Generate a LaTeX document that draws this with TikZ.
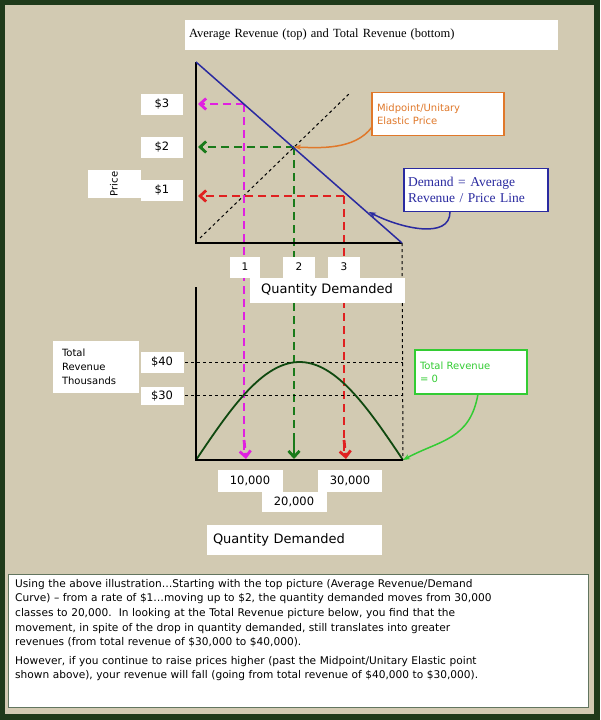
\documentclass[tikz,border=0pt]{standalone}
\usepackage{fontspec}
\setmainfont{Liberation Serif}
\newfontfamily\vsans{DejaVu Sans}
\usetikzlibrary{arrows.meta}
\definecolor{bg}{HTML}{D2CAB2}
\definecolor{frame}{HTML}{1F3A1A}
\definecolor{mag}{HTML}{E020E0}
\definecolor{dgreen}{HTML}{1A7A1A}
\definecolor{dred}{HTML}{E02020}
\definecolor{orng}{HTML}{E0782A}
\definecolor{navy}{HTML}{2A2AA0}
\definecolor{lgreen}{HTML}{33CC33}
\begin{document}
\begin{tikzpicture}[x=1pt,y=-1pt,
  lbl/.style={fill=white,inner sep=0pt,font=\vsans\fontsize{11.5}{13}\selectfont},
  dsh/.style={line width=2.8pt,dash pattern=on 8pt off 5pt},
  dot/.style={line width=1pt,dash pattern=on 3pt off 3pt},
  ax/.style={line width=1.8pt},
  tip/.style={-{Straight Barb[length=6pt,width=11pt]}}]
\useasboundingbox (0,0) rectangle (600,720);
\fill[frame] (0,0) rectangle (600,720);
\fill[bg] (5,5) rectangle (594,714);
% title
\node[fill=white,minimum width=373pt,minimum height=30pt,inner sep=0pt,text width=365pt,font=\fontsize{12.5}{14}\selectfont] (title) at (371.5,35) {Average Revenue (top) and Total Revenue (bottom)};
% top axes
\coordinate (O1) at (196,243); \coordinate (Y1) at (196,62); \coordinate (X1) at (402,243);
\coordinate (M) at (294,147);
\draw[dot] (200,238) -- (350,93);
% dashed guides
\draw[dsh,mag] (244,104) -- (244,455);
\draw[dsh,mag] (196,104) -- (196,243);
\draw[dsh,dgreen] (294,147) -- (294,455);
\draw[dsh,dred] (344,196) -- (344,455);
\draw[dsh,dred] (196,196) -- (196,243) -- (344,243);
\draw[dsh,mag,tip] (244,104) -- (198,104);
\draw[dsh,dgreen,tip] (294,147) -- (198,147);
\draw[dsh,dred,tip] (344,196) -- (198,196);
\draw[ax] (Y1) -- (O1) -- (X1);
\draw[navy,line width=1.5pt] (Y1) -- (X1);
\draw[dot] (X1) -- (403,460);
% price labels
\node[lbl,minimum width=42pt,minimum height=21pt] (p3) at (162,104) {\$3};
\node[lbl,minimum width=42pt,minimum height=21pt] (p2) at (162,147) {\$2};
\node[lbl,minimum width=42pt,minimum height=21pt] (p1) at (162,190) {\$1};
\node[lbl,minimum width=28pt,minimum height=53pt,rotate=90,font=\vsans\fontsize{10}{12}\selectfont] (price) at (114,184) {Price};
\node[lbl,minimum width=30pt,minimum height=21pt,font=\vsans\fontsize{10.5}{12}\selectfont] (q1) at (245,267) {1};
\node[lbl,minimum width=32pt,minimum height=21pt,font=\vsans\fontsize{10.5}{12}\selectfont] (q2) at (299,267) {2};
\node[lbl,minimum width=32pt,minimum height=21pt,font=\vsans\fontsize{10.5}{12}\selectfont] (q3) at (344,267) {3};
\node[lbl,minimum width=155pt,minimum height=25pt,font=\vsans\fontsize{13}{15}\selectfont] (qd1) at (327,290) {Quantity Demanded};
% callouts
\node[fill=white,draw=orng,line width=1.5pt,text=orng,minimum width=132pt,minimum height=43pt,inner sep=3pt,text width=122pt,align=left,font=\vsans\fontsize{10}{13}\selectfont] (mid) at (438,114) {Midpoint/Unitary\\Elastic Price};
\draw[orng,line width=1.5pt,-{Stealth[length=7pt]}] (372,127) .. controls (355,150) and (320,148) .. (M);
\node[fill=white,draw=navy,line width=1.5pt,text=navy,minimum width=144pt,minimum height=43pt,inner sep=3pt,text width=136pt,align=left,font=\fontsize{13.5}{15.5}\selectfont] (dem) at (476,190) {Demand = Average\\Revenue / Price Line};
\draw[navy,line width=1.5pt,-{Stealth[length=7pt]}] (450,212) .. controls (450,240) and (400,228) .. (369,212);
% bottom axes
\coordinate (O2) at (196,460); \coordinate (Y2) at (196,287); \coordinate (X2) at (403,460);
\draw[dot] (185,362) -- (403,362);
\draw[dot] (185,395) -- (403,395);
\draw[dgreen!60!black,line width=1.8pt] plot[domain=0:180,samples=60] ({196+1.15*\x},{460-98*sin(\x)});
\draw[dsh,mag,tip] (244,440) -- (246,459);
\draw[dsh,dgreen,tip] (294,440) -- (294,459);
\draw[dsh,dred,tip] (344,440) -- (346,459);
\draw[ax] (Y2) -- (O2) -- (X2);
\node[lbl,minimum width=86pt,minimum height=52pt,text width=68pt,align=left,font=\vsans\fontsize{10}{14}\selectfont] (trt) at (96,367) {Total\\Revenue\\Thousands};
\node[lbl,minimum width=43pt,minimum height=21pt] (t40) at (162,362) {\$40};
\node[lbl,minimum width=43pt,minimum height=18pt] (t30) at (162,396) {\$30};
\node[fill=white,draw=lgreen,line width=1.5pt,text=lgreen,minimum width=112pt,minimum height=44pt,inner sep=3pt,text width=102pt,align=left,font=\vsans\fontsize{10}{13}\selectfont] (tr0) at (471,372) {Total Revenue\\= 0};
\draw[lgreen,line width=1.5pt,-{Stealth[length=7pt]}] (478,394) .. controls (470,440) and (440,440) .. (X2);
\node[lbl,minimum width=65pt,minimum height=22pt] (n10) at (250,481) {10,000};
\node[lbl,minimum width=64pt,minimum height=22pt] (n30) at (350,481) {30,000};
\node[lbl,minimum width=65pt,minimum height=20pt] (n20) at (294,502) {20,000};
\node[lbl,minimum width=175pt,minimum height=30pt,text width=162pt,align=left,font=\vsans\fontsize{13}{15}\selectfont] (qd2) at (294,540) {Quantity Demanded};
% bottom text
\fill[white,draw=frame!70,line width=0.8pt] (8,574) rectangle (588,707);
\node[inner sep=0pt,anchor=north west,text width=572pt,align=left,font=\vsans\fontsize{10.6}{14.6}\selectfont] (txt) at (15,579) {%
Using the above illustration\ldots Starting with the top picture (Average Revenue/Demand\\
Curve) – from a rate of \$1\ldots moving up to \$2, the quantity demanded moves from 30,000\\
classes to 20,000.\ \ In looking at the Total Revenue picture below, you find that the\\
movement, in spite of the drop in quantity demanded, still translates into greater\\
revenues (from total revenue of \$30,000 to \$40,000).\\[4pt]
However, if you continue to raise prices higher (past the Midpoint/Unitary Elastic point\\
shown above), your revenue will fall (going from total revenue of \$40,000 to \$30,000).};
\end{tikzpicture}
\end{document}
